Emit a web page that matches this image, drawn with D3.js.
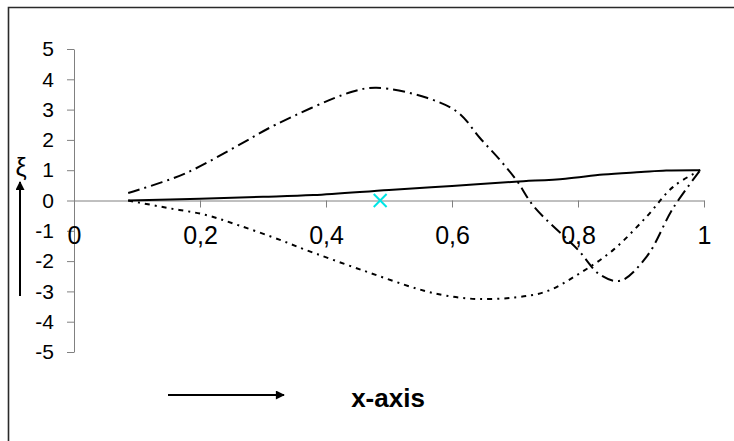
<!DOCTYPE html>
<html>
<head>
<meta charset="utf-8">
<script src="https://cdn.jsdelivr.net/npm/d3@7.9.0/dist/d3.min.js"></script>
<style>
  body { margin: 0; background: #fff; }
  svg { display: block; font-family: Arial, "Liberation Sans", sans-serif; }
</style>
</head>
<body>
<svg id="chart" width="734" height="441"></svg>
<script>
// values
const xTicks = [0, 0.2, 0.4, 0.6, 0.8, 1];
const xTickLabels = ['0', '0,2', '0,4', '0,6', '0,8', '1'];
const yTicks = [-5, -4, -3, -2, -1, 0, 1, 2, 3, 4, 5];

const solidX = [0.086, 0.2, 0.3, 0.38, 0.5, 0.6, 0.7, 0.78, 0.84, 0.9, 0.94, 0.994];
const solidY = [0, 0.06, 0.12, 0.18, 0.35, 0.48, 0.62, 0.72, 0.86, 0.94, 0.99, 1.0];

const dashDotX = [0.086, 0.175, 0.27, 0.32, 0.44, 0.48, 0.56, 0.61, 0.644, 0.676, 0.703, 0.73, 0.8, 0.835, 0.867, 0.909, 0.951, 0.994];
const dashDotY = [0.25, 0.88, 1.93, 2.5, 3.58, 3.72, 3.39, 2.9, 2.07, 1.34, 0.65, -0.2, -1.63, -2.45, -2.65, -1.85, -0.25, 1.0];

const dottedX = [0.086, 0.147, 0.208, 0.263, 0.327, 0.364, 0.459, 0.546, 0.59, 0.64, 0.7, 0.75, 0.803, 0.856, 0.909, 0.951, 0.994];
const dottedY = [0, -0.24, -0.47, -0.83, -1.3, -1.6, -2.31, -2.92, -3.14, -3.25, -3.2, -3.0, -2.4, -1.63, -0.53, 0.45, 1.0];

const markX = [0.486];
const markY = [0];

const svg = d3.select('#chart');

// outer frame (only left and top edges are inside the picture)
svg.append('path')
    .attr('d', 'M8.5,441 L8.5,7.5 L734,7.5')
    .attr('fill', 'none')
    .attr('stroke', '#2a2a2a')
    .attr('stroke-width', 1.6);

const x = d3.scaleLinear().domain([0, 1]).range([74, 704]);
const y = d3.scaleLinear().domain([-5, 5]).range([352, 49]);

// y axis
const yAxis = svg.append('g')
    .attr('transform', `translate(${x(0)},0)`)
    .call(d3.axisLeft(y).tickValues(yTicks).tickFormat(d => String(d))
        .tickSize(7).tickSizeOuter(0).tickPadding(13));
yAxis.selectAll('line, path').attr('stroke', '#808080');
yAxis.selectAll('text').attr('font-size', 21).attr('fill', '#000')
    .attr('font-family', 'Arial, "Liberation Sans", sans-serif');

// x axis
const xAxis = svg.append('g')
    .attr('transform', `translate(0,${y(0)})`)
    .call(d3.axisBottom(x).tickValues(xTicks).tickFormat((d, i) => xTickLabels[i])
        .tickSize(7).tickSizeOuter(0).tickPadding(19));
xAxis.selectAll('line, path').attr('stroke', '#808080');
xAxis.selectAll('text').attr('font-size', 25).attr('fill', '#000')
    .attr('font-family', 'Arial, "Liberation Sans", sans-serif');

const line = d3.line()
    .x(d => x(d[0]))
    .y(d => y(d[1]))
    .curve(d3.curveCatmullRom.alpha(0.5));

function drawSeries(xs, ys, dash) {
    svg.append('path')
        .datum(d3.zip(xs, ys))
        .attr('d', line)
        .attr('fill', 'none')
        .attr('stroke', '#000')
        .attr('stroke-width', 2)
        .attr('stroke-dasharray', dash);
}

drawSeries(solidX, solidY, null);
drawSeries(dashDotX, dashDotY, '12,5,2,5');
drawSeries(dottedX, dottedY, '5,5,2,5');

// cyan cross marker
svg.selectAll('.mark')
    .data(d3.zip(markX, markY))
    .join('path')
    .attr('class', 'mark')
    .attr('d', d3.symbol(d3.symbolX, 110))
    .attr('transform', d => `translate(${x(d[0])},${y(d[1])})`)
    .attr('fill', 'none')
    .attr('stroke', '#00e5e5')
    .attr('stroke-width', 2);

// arrows
const defs = svg.append('defs');
defs.append('marker')
    .attr('id', 'head')
    .attr('viewBox', '0 0 10 10')
    .attr('refX', 9).attr('refY', 5)
    .attr('markerWidth', 6).attr('markerHeight', 4.5)
    .attr('markerUnits', 'strokeWidth')
    .attr('orient', 'auto')
    .append('path')
    .attr('d', 'M0,0 L10,5 L0,10 Z')
    .attr('fill', '#000');

svg.append('line')
    .attr('x1', 168).attr('y1', 395).attr('x2', 284).attr('y2', 395)
    .attr('stroke', '#000').attr('stroke-width', 2)
    .attr('marker-end', 'url(#head)');

svg.append('line')
    .attr('x1', 20).attr('y1', 296).attr('x2', 20).attr('y2', 182)
    .attr('stroke', '#000').attr('stroke-width', 2)
    .attr('marker-end', 'url(#head)');

// labels
svg.append('text')
    .attr('x', 388).attr('y', 407)
    .attr('text-anchor', 'middle')
    .attr('font-size', 26)
    .attr('font-weight', 'bold')
    .text('x-axis');

svg.append('text')
    .attr('x', 21).attr('y', 176)
    .attr('text-anchor', 'middle')
    .attr('font-size', 25)
    .text('ξ');
</script>
</body>
</html>
